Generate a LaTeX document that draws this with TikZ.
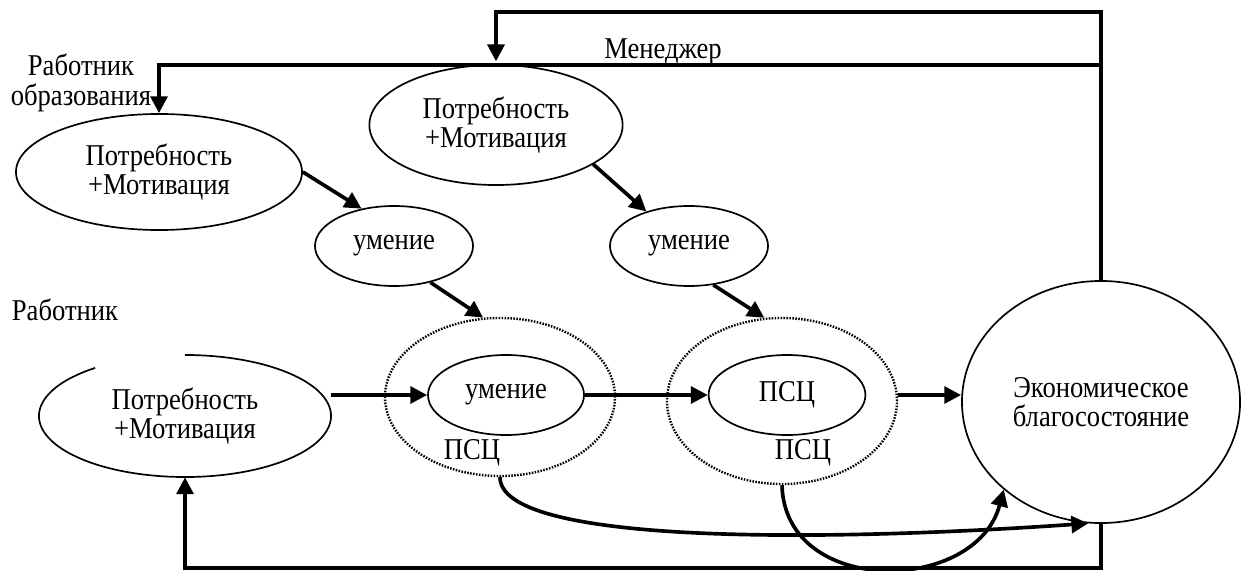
\documentclass[tikz,border=0pt]{standalone}
\usepackage{fontspec}
\setmainfont{Liberation Serif}[FakeStretch=0.88]
\usetikzlibrary{shapes.geometric,arrows.meta}

\begin{document}
\begin{tikzpicture}[x=0.025cm,y=-0.025cm,
    every node/.style={font=\fontsize{21.5}{21}\selectfont,align=center},
    oval/.style={ellipse,draw,line width=1.2pt},
    dotoval/.style={ellipse,draw,line width=1.7pt,dash pattern=on 1.1pt off 1pt},
    arr/.style={line width=2.6pt,-{Triangle[length=12pt,width=12pt]}}]
        \path[use as bounding box] (0,0) rectangle (1241,571) ;

        \node (wedu) at (81,83) {Работник\\образования} ;
        \node (wrk) at (65,310) {Работник} ;
        \node (mgr) at (663,52) {Менеджер} ;

        \node[oval,minimum width=7.15cm,minimum height=2.9cm] (needE) at (159,172) {Потребность\\+Мотивация} ;
        \node[oval,minimum width=6.33cm,minimum height=3cm] (needM) at (496,125) {Потребность\\+Мотивация} ;
        \node[ellipse,minimum width=7.3cm,minimum height=3.05cm] (needB) at (185,416) {Потребность\\+Мотивация} ;
        \draw[line width=1.2pt] (needB.center) ++(128:3.65cm and 1.525cm)
            arc[start angle=128,end angle=450,x radius=3.65cm,y radius=1.525cm] ;

        \node[oval,minimum width=3.95cm,minimum height=2cm] (skill1) at (394,246) {умение} ;
        \node[oval,minimum width=3.95cm,minimum height=2cm] (skill2) at (689,246) {умение} ;

        \node[dotoval,minimum width=5.75cm,minimum height=3.95cm] (dot1) at (500,397) {} ;
        \node[dotoval,minimum width=5.75cm,minimum height=4.15cm] (dot2) at (782,401) {} ;
        \node[oval,minimum width=3.9cm,minimum height=2cm] (skill3) at (506,395) {умение} ;
        \node[oval,minimum width=3.92cm,minimum height=2cm] (psc) at (787,395) {ПСЦ} ;
        \node (pscA) at (472,453) {ПСЦ} ;
        \node (pscB) at (803,453) {ПСЦ} ;

        \node[oval,minimum width=6.95cm,minimum height=6.05cm] (eco) at (1101,402) {Экономическое\\благосостояние} ;

        \coordinate (lineA) at (0,65) ;
        \coordinate (lineB) at (0,12) ;
        \coordinate (bot) at (0,568) ;

        \draw[arr] (eco.north) -- (eco.north |- lineA) -| (needE.north) ;
        \draw[arr,shorten >=2pt] (eco.north |- lineA) -- (eco.north |- lineB) -| (needM.north) ;
        \draw[arr] (eco.south) -- (eco.south |- bot) -| (needB.south) ;

        \draw[arr] (needE.east) -- (skill1.131) ;
        \draw[arr] (needM.-22) -- (skill2.141) ;
        \draw[arr] (skill1.-45) -- (dot1.102) ;
        \draw[arr] (skill2.-58) -- (dot2.102) ;

        \draw[arr] (needB.east |- skill3.west) -- (skill3.west) ;
        \draw[arr] (skill3.east) -- (psc.west) ;
        \draw[arr] (dot2.east |- psc) -- (eco.west |- psc) ;

        \draw[arr] (dot1.south) .. controls +(0,65) and +(-288,20) .. (eco.264) ;
        \draw[arr] (dot2.south) .. controls +(3,112) and +(-28,105) .. (eco.222) ;
\end{tikzpicture}
\end{document}
